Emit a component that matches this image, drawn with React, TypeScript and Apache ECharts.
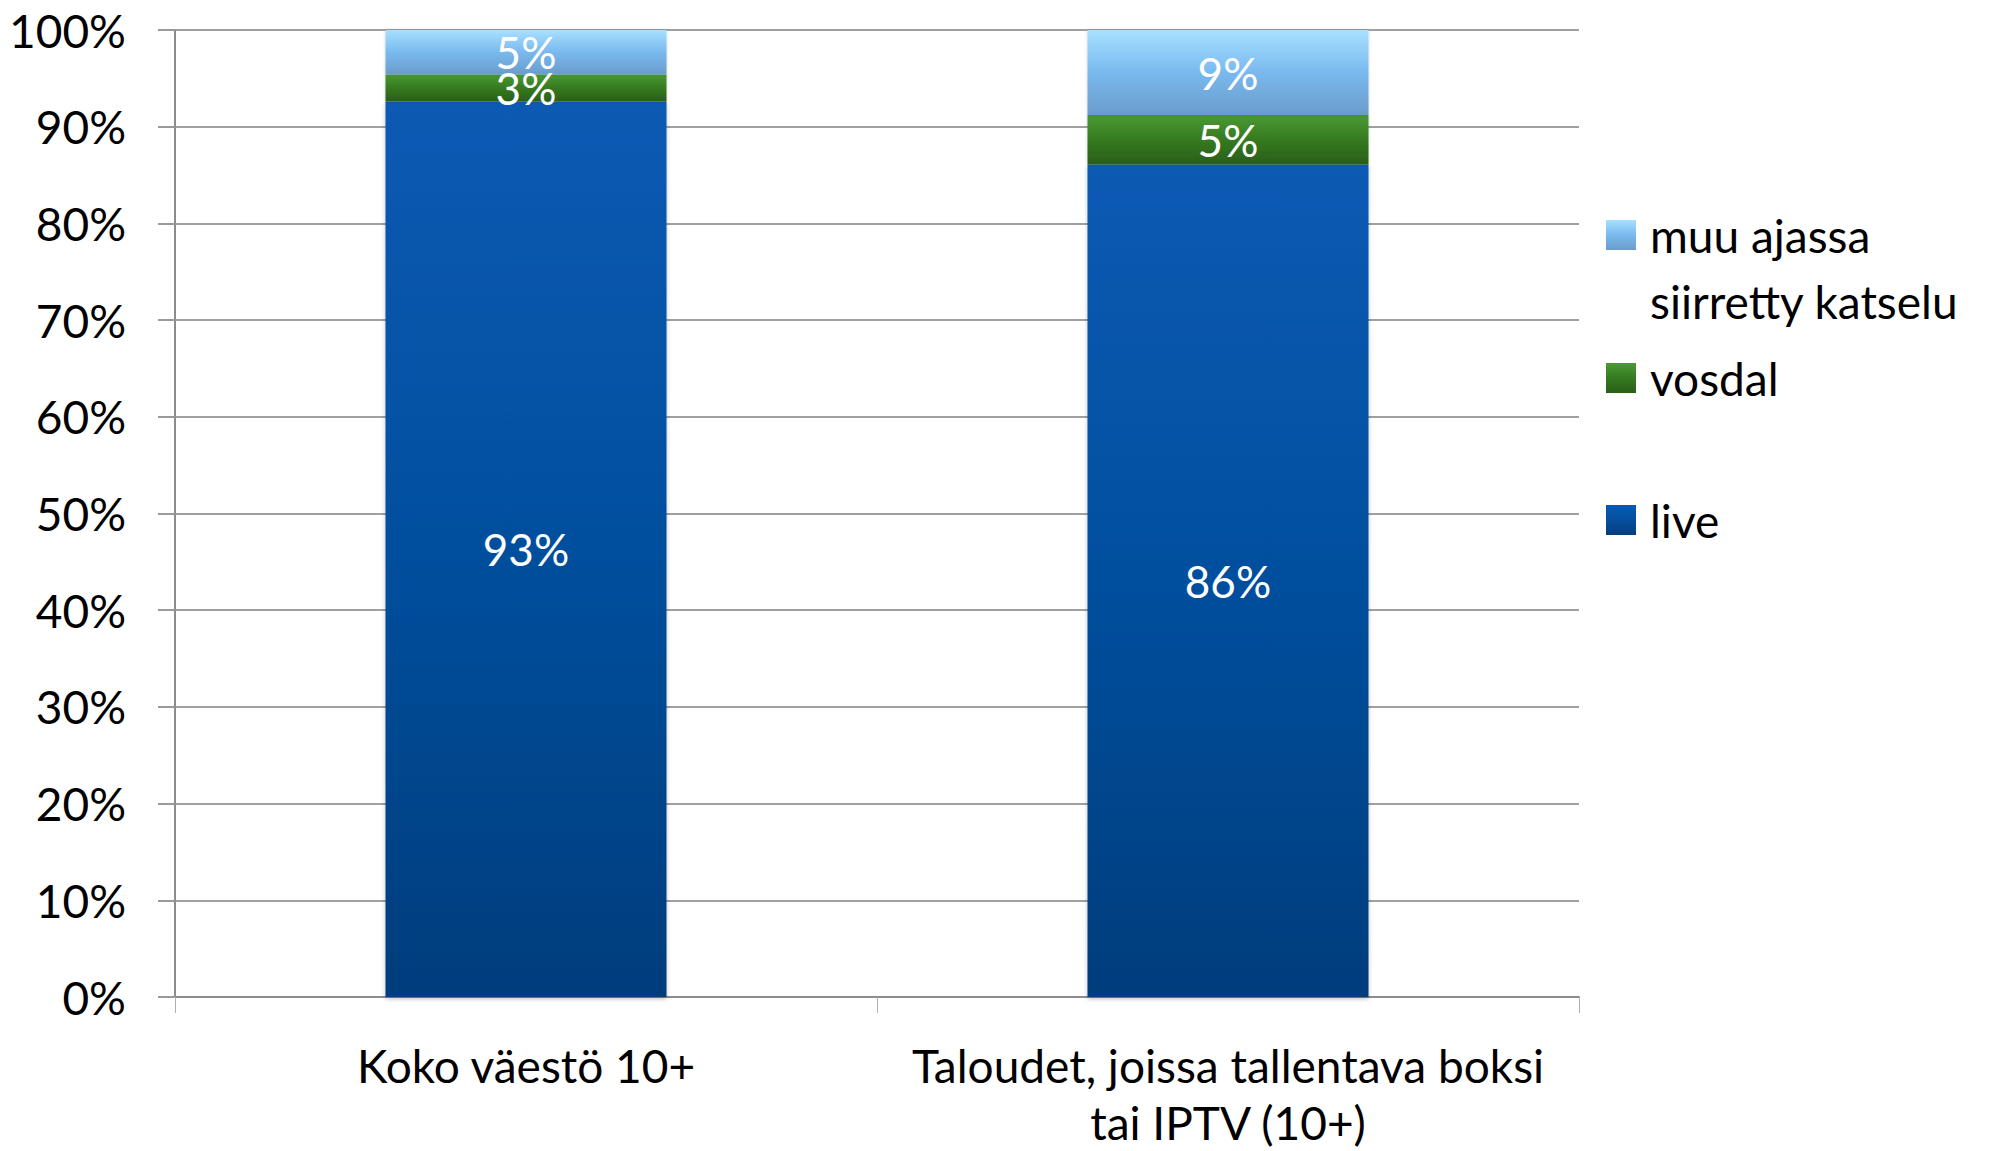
import React, { useEffect, useRef } from "react";
import * as echarts from "echarts";

const categories = ["Koko väestö 10+", "Taloudet, joissa tallentava boksi\ntai IPTV (10+)"];
const liveValues = [92.6, 86.1];
const vosdalValues = [2.8, 5.1];
const muuValues = [4.6, 8.8];
const yTicks = [0, 10, 20, 30, 40, 50, 60, 70, 80, 90, 100];

const FONT = "Lato, 'Open Sans', sans-serif";

function grad(top: string, mid: string, bottom: string) {
  return new echarts.graphic.LinearGradient(0, 0, 0, 1, [
    { offset: 0, color: top },
    { offset: 0.5, color: mid },
    { offset: 1, color: bottom },
  ]);
}

export default function App() {
  const ref = useRef<HTMLDivElement>(null);
  useEffect(() => {
    if (!ref.current) return;
    const chart = echarts.init(ref.current, undefined, { renderer: "svg" });
    const labelCfg = {
      show: true,
      position: "inside" as const,
      color: "#ffffff",
      fontSize: 44,
      fontFamily: FONT,
      formatter: (p: any) => Math.round(p.value) + "%",
    };
    const barCommon = {
      type: "bar" as const,
      stack: "total",
      barWidth: 281,
      label: labelCfg,
    };
    const legendCommon = {
      left: 1606,
      orient: "vertical" as const,
      itemWidth: 30,
      itemHeight: 30,
      itemGap: 0,
      padding: 0,
      icon: "rect",
      textStyle: {
        fontSize: 46,
        fontFamily: FONT,
        color: "#000",
        lineHeight: 66,
        padding: [0, 0, 0, 9],
      },
    };
    chart.setOption({
      animation: false,
      backgroundColor: "#ffffff",
      grid: {
        left: 175,
        right: 416,
        top: 30,
        bottom: 154,
        containLabel: false,
        outerBoundsMode: "none",
      },
      legend: [
        {
          ...legendCommon,
          top: 136,
          data: ["muu ajassa siirretty katselu"],
          formatter: () => " \nmuu ajassa\nsiirretty katselu",
        },
        { ...legendCommon, top: 345, data: ["vosdal"] },
        { ...legendCommon, top: 487, data: ["live"] },
      ],
      xAxis: {
        type: "category",
        data: categories,
        axisLine: { show: true, lineStyle: { color: "#8c8c8c", width: 2 } },
        axisTick: { show: true, length: 16, lineStyle: { color: "#b0b0b0", width: 1 } },
        axisLabel: {
          interval: 0,
          fontSize: 46,
          fontFamily: FONT,
          color: "#000",
          margin: 40,
          lineHeight: 57,
        },
      },
      yAxis: {
        type: "value",
        min: 0,
        max: 100,
        interval: 10,
        axisLine: { show: true, lineStyle: { color: "#8c8c8c", width: 2 } },
        axisTick: { show: true, length: 17, lineStyle: { color: "#9a9a9a", width: 2 } },
        splitLine: { show: true, lineStyle: { color: "#a0a0a0", width: 2 } },
        axisLabel: {
          fontSize: 46,
          fontFamily: FONT,
          color: "#000",
          margin: 49,
          formatter: (v: number) => (yTicks.includes(v) ? v + "%" : ""),
        },
      },
      series: [
        {
          ...barCommon,
          name: "live",
          data: liveValues,
          itemStyle: {
            color: grad("#075ab4", "#064f9e", "#053d7c"),
            shadowColor: "rgba(0,0,0,0.25)",
            shadowBlur: 4,
            shadowOffsetY: 2,
          },
        },
        {
          ...barCommon,
          name: "vosdal",
          data: vosdalValues,
          itemStyle: {
            color: grad("#4a9a34", "#357a20", "#2a5e18"),
            shadowColor: "rgba(0,0,0,0.2)",
            shadowBlur: 3,
          },
        },
        {
          ...barCommon,
          name: "muu ajassa siirretty katselu",
          data: muuValues,
          itemStyle: {
            color: grad("#a8e0ff", "#79b9ee", "#6a9ccc"),
            shadowColor: "rgba(0,0,0,0.2)",
            shadowBlur: 3,
          },
        },
      ],
    });
    return () => chart.dispose();
  }, []);
  return (
    <div
      ref={ref}
      style={{ position: "fixed", left: 0, top: 0, width: 1995, height: 1151, background: "#fff" }}
    />
  );
}
